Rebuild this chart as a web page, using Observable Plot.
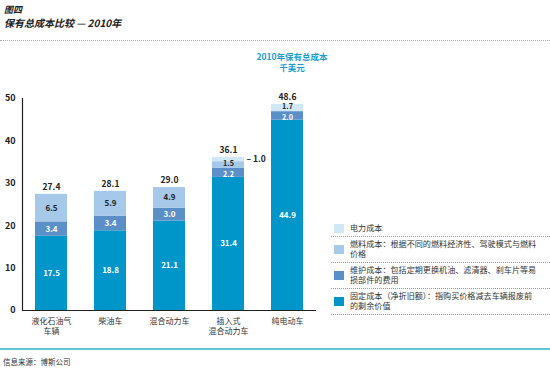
<!DOCTYPE html>
<html><head><meta charset="utf-8">
<script src="https://cdn.jsdelivr.net/npm/d3@7"></script>
<script src="https://cdn.jsdelivr.net/npm/@observablehq/plot@0.6"></script>
<style>
body{margin:0;width:550px;height:376px;position:relative;font-family:"Noto Sans CJK SC",sans-serif;background:#fff;overflow:hidden;color:#222}
#t1{position:absolute;left:4px;top:3px;font-size:9px;font-weight:bold;font-style:italic}
#t2{position:absolute;left:4px;top:15px;font-size:10px;font-weight:bold;font-style:italic}
#dots{position:absolute;left:0;top:40px;width:550px;border-top:1px dotted #aaa}
#chart{position:absolute;left:0;top:40px}
#ann{position:absolute;left:242px;top:51px;width:100px;text-align:center;font-size:8.5px;font-weight:bold;color:#1a9dd0;line-height:11px}
#legend{position:absolute;left:331px;top:221px;width:219px;font-size:8.1px;line-height:10px;color:#333}
.li{display:flex;align-items:center;border-bottom:1px dotted #999;padding:2px 0 3px 0}
.sw{width:10px;height:9px;flex:none;margin:0 6px 0 3px}
#teal{position:absolute;left:0;top:348px;width:550px;height:2px;background:#5ec8d3}
#src{position:absolute;left:3px;top:356px;font-size:7.5px;color:#333}
</style></head>
<body>
<div id="t1">图四</div>
<div id="t2">保有总成本比较 — 2010年</div>
<div id="dots"></div>
<div id="chart"></div>
<div id="ann">2010年保有总成本<br>千美元</div>
<div id="legend"></div>
<div id="teal"></div>
<div id="src">信息来源：博斯公司</div>
<script>
const categories = ["液化石油气\n车辆","柴油车","混合动力车","插入式\n混合动力车","纯电动车"];
const costTypes = ["固定成本","维护成本","燃料成本","电力成本"];
const fixedCost = [17.5,18.8,21.1,31.4,44.9];
const maintenanceCost = [3.4,3.4,3.0,2.2,2.0];
const fuelCost = [6.5,5.9,4.9,1.5,0];
const electricityCost = [0,0,0,1.0,1.7];
const totals = [27.4,28.1,29.0,36.1,48.6];
const yTicks = [0,10,20,30,40,50];
const colors = ["#0096c9","#5b8fc8","#a6c9ea","#cfe7f7"];
const labelColors = ["#fff","#fff","#222","#222"];
const legendLines = [
  ["电力成本"],
  ["燃料成本：根据不同的燃料经济性、驾驶模式与燃料","价格"],
  ["维护成本：包括定期更换机油、滤清器、刹车片等易","损部件的费用"],
  ["固定成本（净折旧额）：指购买价格减去车辆报废前","的剩余价值"]
];
const legendColors = [colors[3],colors[2],colors[1],colors[0]];

const series = [fixedCost, maintenanceCost, fuelCost, electricityCost];
const data = [];
categories.forEach((c,i)=>series.forEach((s,k)=>{ if(s[i]>0) data.push({cat:c,i,type:costTypes[k],k,value:s[i]}); }));
const isOutside = d=>d.k===3 && d.i===3;
const small = data.filter(d=>d.value<2.5 && !isOutside(d));
const regular = data.filter(d=>d.value>=2.5);

const font = "Noto Sans CJK SC, sans-serif";
const labelOpts = (dy)=>({x:"cat", y:"value", z:"type", order:costTypes,
  text:d=>isOutside(d) || (dy===null ? d.value<2.5 : d.value>=2.5) ? "" : d.value.toFixed(1),
  fill:d=>labelColors[d.k], fontWeight:"bold"});
const plot = Plot.plot({
  width:550, height:305,
  marginTop:58, marginBottom:35, marginLeft:22, marginRight:234,
  style:{fontFamily:font, background:"transparent"},
  x:{domain:categories, paddingInner:0.45, paddingOuter:0.2, label:null},
  y:{domain:[0,50], label:null},
  color:{domain:costTypes, range:colors},
  marks:[
    Plot.barY(data, {x:"cat", y:"value", fill:"type", order:costTypes}),
    // regular labels, centred in their segments
    Plot.text(data, Plot.stackY({...labelOpts(null), fontSize:8})),
    // thin segments: upper labels nudged up, maintenance labels nudged down
    Plot.text(data, Plot.stackY({...labelOpts(0), fontSize:7.2, dy:-1,
      text:d=>d.value<2.5 && d.k>=2 && !isOutside(d) ? d.value.toFixed(1) : ""})),
    Plot.text(data, Plot.stackY({...labelOpts(0), fontSize:7.2, dy:1.5,
      text:d=>d.value<2.5 && d.k===1 ? d.value.toFixed(1) : ""})),
    Plot.text(data.filter(isOutside), {x:"cat", y:d=>totals[d.i]-d.value/2,
      text:d=>"– "+d.value.toFixed(1), dx:18, textAnchor:"start", fill:"#222", fontSize:8.5, fontWeight:"bold"}),
    Plot.text(totals, {x:(d,i)=>categories[i], y:d=>d, text:d=>d.toFixed(1), dy:-7,
      fill:"#222", fontSize:8.5, fontWeight:"bold"}),
    Plot.axisY({ticks:yTicks, tickSize:0, tickPadding:7, fontSize:9, fontWeight:"bold", fill:"#222"}),
    Plot.axisX({tickSize:0, tickPadding:6, fontSize:8, fill:"#333", lineHeight:1.3}),
    Plot.ruleY([0], {stroke:"#222", strokeWidth:1.2}),
    Plot.frame({anchor:"left", stroke:"#222", strokeWidth:1.2})
  ]
});
document.getElementById("chart").appendChild(plot);

const lg = document.getElementById("legend");
legendLines.forEach((lines,i)=>{
  const row = document.createElement("div"); row.className="li";
  const sw = document.createElement("div"); sw.className="sw"; sw.style.background=legendColors[i];
  const tx = document.createElement("div");
  lines.forEach((l,j)=>{ if(j) tx.appendChild(document.createElement("br")); tx.appendChild(document.createTextNode(l)); });
  row.appendChild(sw); row.appendChild(tx); lg.appendChild(row);
});
</script>
</body></html>
